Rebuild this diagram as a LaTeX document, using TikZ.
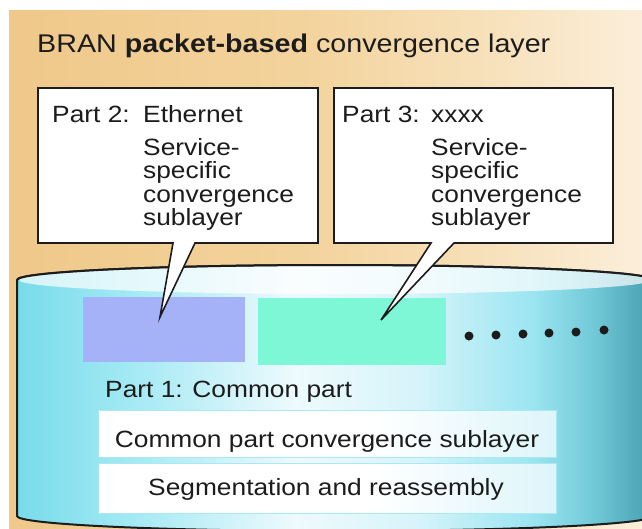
\documentclass[tikz,border=0pt]{standalone}
\usepackage{fontspec}
\setmainfont{Liberation Sans}[FakeStretch=1.12]

% palette
\definecolor{ink}{HTML}{1C1C1C}
\definecolor{tanL}{HTML}{EFC88A}
\definecolor{tanM}{HTML}{F3D39C}
\definecolor{tanR1}{HTML}{F7E0B8}
\definecolor{tanR}{HTML}{FBEEDA}
\definecolor{cylA}{HTML}{78DBEA}
\definecolor{cylB}{HTML}{9EE8F3}
\definecolor{cylC}{HTML}{EEFAFD}
\definecolor{cylD}{HTML}{D6F4FA}
\definecolor{cylE}{HTML}{9BE5F1}
\definecolor{cylF}{HTML}{74CBDA}
\definecolor{cylG}{HTML}{4FA7B7}
\definecolor{bandEdge}{HTML}{A9E9F2}
\definecolor{bandTint}{HTML}{DDF5FA}
\definecolor{svcEth}{HTML}{A6B2F8}
\definecolor{svcX}{HTML}{7EF7D6}

% backdrop: tan on the left, cream on the right
\pgfdeclarehorizontalshading{tanfade}{100bp}{color(0bp)=(tanL); color(25bp)=(tanL);
  color(48bp)=(tanM); color(62bp)=(tanR1); color(75bp)=(tanR); color(100bp)=(tanR)}
% cylinder body: cyan edges, pale middle, darker teal on the right
\pgfdeclarehorizontalshading{cylbody}{100bp}{color(0bp)=(cylA); color(25bp)=(cylA);
  color(33bp)=(cylB); color(47bp)=(cylC); color(56.5bp)=(cylD); color(65.5bp)=(cylE);
  color(70bp)=(cylF); color(74bp)=(cylG); color(100bp)=(cylG)}
\pgfdeclarehorizontalshading{bandfade}{100bp}{color(0bp)=(white); color(25bp)=(white);
  color(55bp)=(white); color(75bp)=(bandTint); color(100bp)=(bandTint)}

\tikzset{
  lbl/.style={anchor=base west, inner sep=0pt, text=ink, font=\fontsize{23.5}{23.5}\selectfont},
  titlefont/.style={anchor=base west, inner sep=0pt, text=ink, font=\fontsize{25.6}{26}\selectfont},
  callout/.style={fill=white, draw=ink, line width=1.6pt, line join=miter},
  band/.style={rectangle, inner sep=0pt, draw=bandEdge, line width=1pt, shade, shading=bandfade},
  svcblock/.style={rectangle, inner sep=0pt, draw=none},
  dot/.style={fill=ink},
}

\begin{document}
\begin{tikzpicture}[x=1pt,y=-1pt]
\useasboundingbox (0,0) rectangle (642,528);
\clip (0,0) rectangle (642,528);
\fill[white] (0,0) rectangle (642,528);

% backdrop panel
\shade[shading=tanfade] (9,10) rectangle (642,528);

% title
\node[titlefont] (title) at (37,52) {BRAN \textbf{packet-based} convergence layer};

% cylinder body and its lid
\path[shade, shading=cylbody, draw=ink, line width=2pt]
  (17,280) -- (17,516)
  arc[start angle=180, end angle=360, x radius=318pt, y radius=15pt]
  -- (653,280)
  arc[start angle=0, end angle=180, x radius=318pt, y radius=15pt] -- cycle;
\fill[white, fill opacity=0.7] (335,280) ellipse[x radius=316pt, y radius=14pt];
\draw[ink, line width=2pt]
  (653,280) arc[start angle=0, end angle=180, x radius=318pt, y radius=15pt];

% service-specific blocks
\node[svcblock, fill=svcEth, minimum width=162pt, minimum height=65pt] (eth) at (164,329.5) {};
\node[svcblock, fill=svcX, minimum width=188pt, minimum height=67pt] (xx) at (352,331.5) {};

% further blocks
\foreach \px/\py [count=\k] in {469/336, 496/335, 523/334, 549/333, 576/332, 604/330}
  \fill[dot] (\px,\py) circle[radius=4.5pt];

% common part
\node[lbl] (part1) at (105,397) {Part 1: Common part};
\node[band, minimum width=458pt, minimum height=47pt] (cpcs) at (327,433.5) {};
\node[band, minimum width=458pt, minimum height=50pt] (sar) at (327,488) {};
\node[lbl, anchor=base] (cpcsText) at (327,447) {Common part convergence sublayer};
\node[lbl, anchor=base] (sarText) at (326,495) {Segmentation and reassembly};

% callouts
\coordinate (tipEth) at (160,317);
\coordinate (tipX) at (381,320);
\filldraw[callout] (38,88) -- (318,88) -- (318,243) -- (195,243) -- (tipEth)
  -- (173,243) -- (38,243) -- cycle;
\filldraw[callout] (334,88) -- (613,88) -- (613,243) -- (454,243) -- (tipX)
  -- (431,243) -- (334,243) -- cycle;

% callout texts
\node[lbl] (part2) at (52,122) {Part 2:};
\node[lbl] (ethName) at (143,122) {Ethernet};
\node[lbl] (part3) at (342,122) {Part 3:};
\node[lbl] (xName) at (431,122) {xxxx};
\foreach \t [count=\i] in {Service-,specific,convergence,sublayer}{
  \node[lbl] (ethL\i) at (143,{155+23.5*(\i-1)}) {\t};
  \node[lbl] (xL\i) at (431,{155+23.5*(\i-1)}) {\t};
}
\end{tikzpicture}
\end{document}
